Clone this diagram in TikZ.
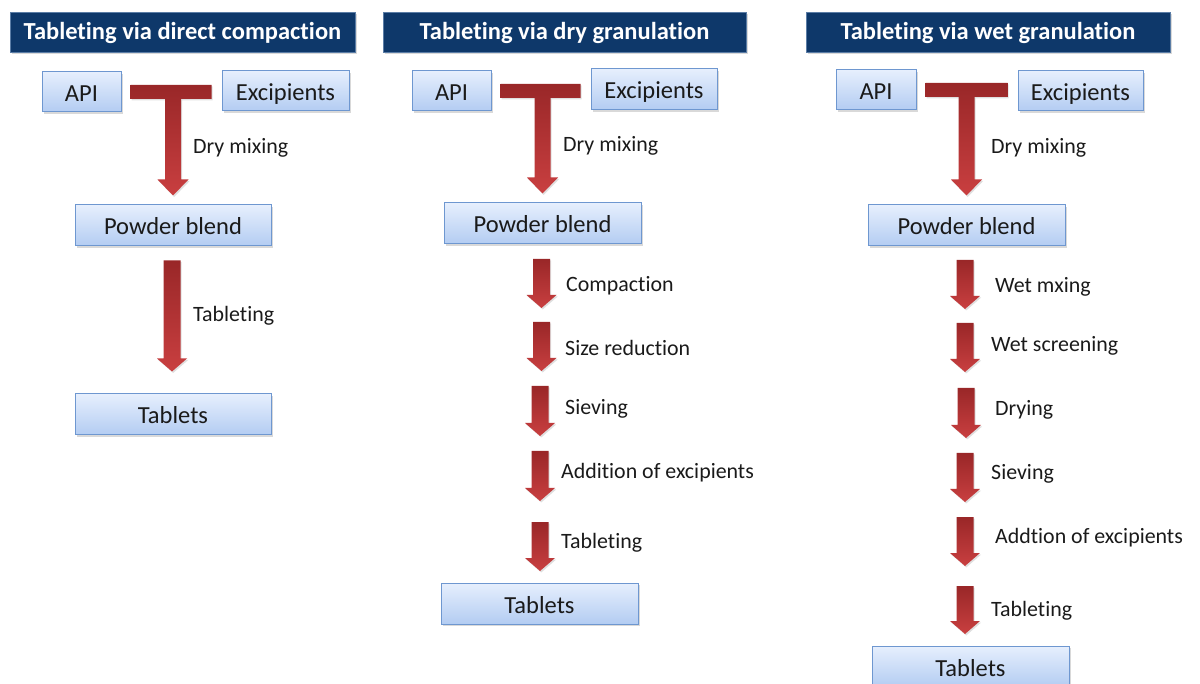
\documentclass[tikz,border=0pt]{standalone}
\usepackage{fontspec}
\setmainfont{Carlito}[Ligatures={NoCommon,NoContextual}, Contextuals=NoAlternate]
\usetikzlibrary{calc,shadows}

\definecolor{navy}{HTML}{0E386A}
\definecolor{navyedge}{HTML}{5B7DA6}
\definecolor{boxtop}{HTML}{E6EFFD}
\definecolor{boxbot}{HTML}{B3CCF2}
\definecolor{boxedge}{HTML}{6E97D0}
\definecolor{arrtop}{HTML}{992728}
\definecolor{arrbot}{HTML}{C93F40}
\definecolor{ink}{HTML}{1A1A1A}

\tikzset{
  softshadow/.style={drop shadow={opacity=0.3, shadow xshift=1.5pt, shadow yshift=-1.8pt}},
  banner/.style={fill=navy, draw=navyedge, line width=0.8pt, text=white,
    font=\fontsize{24.5}{28}\selectfont\bfseries, inner sep=0pt,
    text height=18pt, text depth=2pt, softshadow},
  pbox/.style={draw=boxedge, line width=1pt, top color=boxtop, bottom color=boxbot,
    font=\fontsize{24.5}{28}\selectfont, text=ink, inner sep=0pt,
    text height=19pt, text depth=0pt, softshadow},
  steplabel/.style={anchor=west, font=\fontsize{21.9}{26}\selectfont, text=ink,
    inner sep=0pt, yshift=-2pt},
  arrowshade/.style={top color=arrtop, bottom color=arrbot,
    drop shadow={opacity=0.25, shadow xshift=1.2pt, shadow yshift=-1.5pt}}
}

% straight block arrow pointing down from #1 to the tip #2
\newcommand\blockdown[2]{%
  \path[arrowshade] let \p1=(#1), \p2=(#2) in
    (\x1-8.5pt,\y1) -- (\x1+8.5pt,\y1) -- (\x1+8.5pt,\y2+13pt) -- (\x1+15pt,\y2+13pt)
    -- (\x1,\y2) -- (\x1-15pt,\y2+13pt) -- (\x1-8.5pt,\y2+13pt) -- cycle;}

% T-shaped arrow joining two inputs (#1 left, #2 right) and pointing down to #3
\newcommand\mergedown[3]{%
  \path[arrowshade] let \p1=($(#1.east)+(9pt,0)$), \p2=($(#2.west)+(-10pt,0)$),
      \p3=($(#3.north)+(0,9pt)$) in
    (\x1,\y1+7pt) -- (\x2,\y1+7pt) -- (\x2,\y1-7pt) -- (\x3+8pt,\y1-7pt)
    -- (\x3+8pt,\y3+16pt) -- (\x3+15.5pt,\y3+16pt) -- (\x3,\y3)
    -- (\x3-15.5pt,\y3+16pt) -- (\x3-8pt,\y3+16pt) -- (\x3-8pt,\y1-7pt)
    -- (\x1,\y1-7pt) -- cycle;}

\begin{document}
\begin{tikzpicture}[x=1pt,y=-1pt]
\useasboundingbox (0,0) rectangle (1200,684);

% ---------------- direct compaction ----------------
\node[banner, minimum width=345pt, minimum height=40pt] (t1) at (182.5,32) {Tableting via direct compaction};
\node[pbox, minimum width=79pt, minimum height=40pt] (api1) at (81.5,92) {API};
\node[pbox, minimum width=127pt, minimum height=40pt] (exc1) at (285.5,91) {Excipients};
\node[pbox, minimum width=196pt, minimum height=41pt] (pb1) at (173,225.5) {Powder blend};
\node[pbox, minimum width=196pt, minimum height=41pt] (tab1) at (173,414.5) {Tablets};
\mergedown{api1}{exc1}{pb1}
\node[steplabel] (l1a) at (193,146) {Dry mixing};
\coordinate (a1s) at ($(pb1.south)+(-1pt,-14pt)$);
\coordinate (a1e) at ($(tab1.north)+(-1pt,22pt)$);
\blockdown{a1s}{a1e}
\node[steplabel] (l1b) at (193,314) {Tableting};

% ---------------- dry granulation ----------------
\node[banner, minimum width=363pt, minimum height=40pt] (t2) at (564.5,32) {Tableting via dry granulation};
\node[pbox, minimum width=79pt, minimum height=40pt] (api2) at (451.5,91) {API};
\node[pbox, minimum width=126pt, minimum height=41pt] (exc2) at (654,89.5) {Excipients};
\node[pbox, minimum width=197pt, minimum height=41pt] (pb2) at (542.5,223.5) {Powder blend};
\node[pbox, minimum width=197pt, minimum height=41pt] (tab2) at (539.5,603.5) {Tablets};
\mergedown{api2}{exc2}{pb2}
\node[steplabel] (l2a) at (563,144) {Dry mixing};

\coordinate (b1s) at (541.5,259); \coordinate (b1e) at (541.5,308);
\coordinate (b2s) at (541.5,322); \coordinate (b2e) at (541.5,371);
\coordinate (b3s) at (540,386);   \coordinate (b3e) at (540,436);
\coordinate (b4s) at (540,451);   \coordinate (b4e) at (540,501);
\coordinate (b5s) at (540,522);   \coordinate (b5e) at (540,571);
\blockdown{b1s}{b1e}
\blockdown{b2s}{b2e}
\blockdown{b3s}{b3e}
\blockdown{b4s}{b4e}
\blockdown{b5s}{b5e}
\node[steplabel] (l2b) at (566,284) {Compaction};
\node[steplabel] (l2c) at (565,346) {Size reduction};
\node[steplabel] (l2d) at (565,407) {Sieving};
\node[steplabel] (l2e) at (561,471) {Addition of excipients};
\node[steplabel] (l2f) at (561,541) {Tableting};

% ---------------- wet granulation ----------------
\node[banner, minimum width=364pt, minimum height=40pt] (t3) at (988,32) {Tableting via wet granulation};
\node[pbox, minimum width=80pt, minimum height=40pt] (api3) at (876,90) {API};
\node[pbox, minimum width=125pt, minimum height=40pt] (exc3) at (1080.5,91) {Excipients};
\node[pbox, minimum width=197pt, minimum height=41pt] (pb3) at (966.5,225.5) {Powder blend};
\node[pbox, minimum width=197pt, minimum height=41pt] (tab3) at (970.5,666.5) {Tablets};
\mergedown{api3}{exc3}{pb3}
\node[steplabel] (l3a) at (991,146) {Dry mixing};

\coordinate (c1s) at (965,260); \coordinate (c1e) at (965,309);
\coordinate (c2s) at (965,323); \coordinate (c2e) at (965,372);
\coordinate (c3s) at (966,388); \coordinate (c3e) at (966,438);
\coordinate (c4s) at (965,453); \coordinate (c4e) at (965,502);
\coordinate (c5s) at (965,517); \coordinate (c5e) at (965,566);
\coordinate (c6s) at (965,586); \coordinate (c6e) at (965,634);
\blockdown{c1s}{c1e}
\blockdown{c2s}{c2e}
\blockdown{c3s}{c3e}
\blockdown{c4s}{c4e}
\blockdown{c5s}{c5e}
\blockdown{c6s}{c6e}
\node[steplabel] (l3b) at (995,285) {Wet mxing};
\node[steplabel] (l3c) at (991,344) {Wet screening};
\node[steplabel] (l3d) at (995,408) {Drying};
\node[steplabel] (l3e) at (991,472) {Sieving};
\node[steplabel] (l3f) at (995,536) {Addtion of excipients};
\node[steplabel] (l3g) at (991,609) {Tableting};
\end{tikzpicture}
\end{document}
